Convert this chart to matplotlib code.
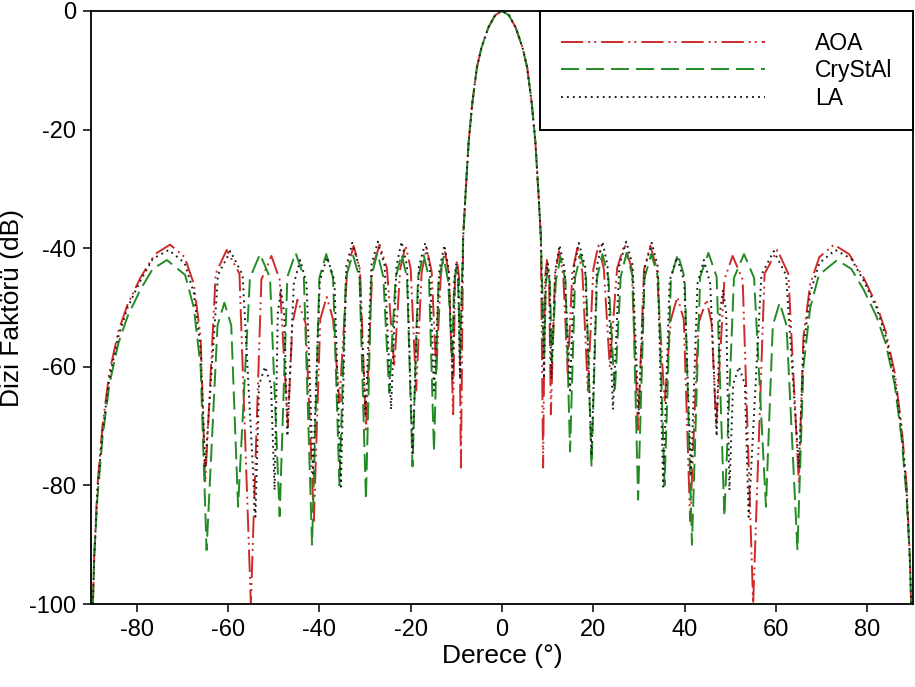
import numpy as np
import matplotlib
matplotlib.use("Agg")
from matplotlib import pyplot as plt

plt.rcParams['font.family'] = ['Liberation Sans', 'DejaVu Sans']
plt.rcParams['lines.scale_dashes'] = False
plt.rcParams['axes.unicode_minus'] = False

# values, right half (0..90 deg); pattern is symmetric
# (angle deg, level dB) - nulls, lobe shoulders and peaks
aoa_pts = [(0, 0), (1.5, -0.7), (3, -2.8), (4.5, -6.2), (5.5, -9.5), (6.5, -15.5), (7.3, -22), (8.0, -31), (8.5, -38),
           (9.0, -77), (9.4, -45), (9.85, -42), (10.3, -45), (10.7, -68),
           (11.6, -44.5), (12.5, -40.5), (13.4, -44.5), (14.4, -61),
           (15.4, -44), (16.5, -40), (17.6, -44), (18.8, -64),
           (20.0, -43.5), (21.1, -39.5), (22.3, -43.5), (23.6, -60),
           (25.2, -43.4), (26.8, -39.4), (28.4, -43.4), (29.8, -70.6),
           (31.1, -43.6), (32.5, -39.6), (33.9, -43.6), (35.6, -66),
           (37.0, -52), (38.4, -48.2), (39.8, -52), (41.2, -86),
           (43.0, -52.7), (44.8, -48.7), (45.9, -52.7), (46.9, -70),
           (48.7, -45.3), (50.5, -41.3), (52.7, -45.3), (55.0, -100),
           (57.5, -44.3), (60.3, -40.3), (62.7, -44.3), (65.0, -79.6),
           (66.0, -55), (67.5, -46), (69.5, -41.5), (72.7, -39.4), (76.0, -41), (79.2, -45),
           (82.0, -49.5), (84.0, -54), (86.0, -61), (87.5, -70), (88.6, -80), (89.3, -92), (89.6, -100)]

crystal_pts = [(0, 0), (1.5, -0.7), (3, -2.8), (4.5, -6.2), (5.5, -9.5), (6.5, -15.5), (7.3, -22), (8.0, -31), (8.5, -38),
               (9.2, -58), (9.6, -46), (10.05, -43.5), (10.5, -46), (10.9, -59),
               (11.8, -45.5), (12.8, -41.5), (13.9, -45.5), (14.9, -74.3),
               (16.0, -45), (17.2, -41), (18.4, -45), (19.6, -76.8),
               (20.8, -45), (22.0, -41), (23.3, -45), (24.7, -64.4),
               (26.0, -44.8), (27.3, -40.8), (28.6, -44.8), (29.8, -82.4),
               (31.2, -45), (32.7, -41), (34.2, -45), (35.6, -80),
               (37.0, -45), (38.5, -41), (40.0, -45), (41.6, -90),
               (43.4, -44.8), (45.2, -40.8), (47.0, -44.8), (48.7, -85.2),
               (50.8, -45), (53.0, -41), (55.2, -45), (57.8, -83.6),
               (59.3, -53), (60.8, -49.2), (62.3, -53), (64.7, -90.9),
               (66.0, -60), (67.5, -50), (69.4, -44.5), (73.4, -42), (76.5, -43.5), (79.2, -47),
               (82.0, -51.5), (84.0, -56), (86.0, -63), (87.5, -72), (88.6, -82), (89.3, -92), (89.6, -100)]

la_pts = [(0, 0), (1.5, -0.7), (3, -2.8), (4.5, -6.2), (5.5, -9.5), (6.5, -15.5), (7.3, -22), (8.0, -31), (8.5, -38),
          (9.2, -62), (9.6, -45), (10.0, -42.5), (10.4, -45), (10.8, -62),
          (11.7, -43.5), (12.6, -39.5), (13.7, -43.5), (14.9, -64),
          (15.8, -43.1), (16.8, -39.1), (18.2, -43.1), (19.6, -75),
          (20.8, -42.9), (22.0, -38.9), (23.1, -42.9), (24.3, -67.2),
          (25.7, -42.9), (27.2, -38.9), (28.6, -42.9), (29.9, -68),
          (31.3, -43.1), (32.8, -39.1), (34.1, -43.1), (35.3, -80.2),
          (36.7, -45.5), (38.3, -41.5), (39.9, -45.5), (41.4, -78),
          (42.8, -46), (44.2, -42), (45.6, -46), (47.0, -71.7),
          (47.7, -51), (48.4, -47), (49.1, -51), (49.8, -80.8),
          (50.6, -63), (51.9, -60), (53.2, -63), (54.0, -85.3),
          (56.8, -44.5), (59.5, -40.5), (62.2, -44.5), (65.0, -77),
          (66.0, -57), (67.5, -47.5), (69.5, -42.5), (73.0, -40.3), (76.5, -41.8), (79.2, -45.5),
          (82.0, -50), (84.0, -54.8), (86.0, -62), (87.5, -71), (88.6, -81), (89.3, -92), (89.6, -100)]

labels = ['AOA', 'CryStAl', 'LA']
colors = ['#cf2a2a', '#238b23', '#1a1a1a']
dashes = [(16, 3.6, 1.4, 2.9, 1.4, 3.6), (13, 5), (1.3, 3.0)]


def both_sides(pts):
    a = np.array(pts, dtype=float)
    ang = np.concatenate([-a[:0:-1, 0], a[:, 0]])
    db = np.concatenate([a[:0:-1, 1], a[:, 1]])
    return ang, db


fig = plt.figure(figsize=(9.15, 6.87), dpi=100)
ax = fig.add_axes([0.0995, 0.1208, 0.8983, 0.8632])

for pts, lab, c, d in zip([aoa_pts, crystal_pts, la_pts], labels, colors, dashes):
    x, y = both_sides(pts)
    ax.plot(x, y, color=c, linewidth=1.4, dashes=d, label=lab)

ax.set_xlim(-90, 90)
ax.set_ylim(-100, 0)
ax.set_xticks(np.arange(-80, 81, 20))
ax.set_yticks(np.arange(-100, 1, 20))
ax.tick_params(direction='out', length=6, width=1.1, labelsize=17, pad=5, top=False, right=False)
for s in ax.spines.values():
    s.set_linewidth(1.3)
ax.set_xlabel('Derece (°)', fontsize=19, labelpad=2)
ax.set_ylabel('Dizi Faktörü (dB)', fontsize=19, labelpad=3)

leg = ax.legend(loc='upper right', bbox_to_anchor=(1, 1), borderaxespad=0, fontsize=16.5,
                handlelength=8.9, handletextpad=2.2, borderpad=0.9, labelspacing=0.2,
                fancybox=False, framealpha=1, edgecolor='black')
leg.get_frame().set_linewidth(1.4)

fig.savefig('out.png', dpi=100)
